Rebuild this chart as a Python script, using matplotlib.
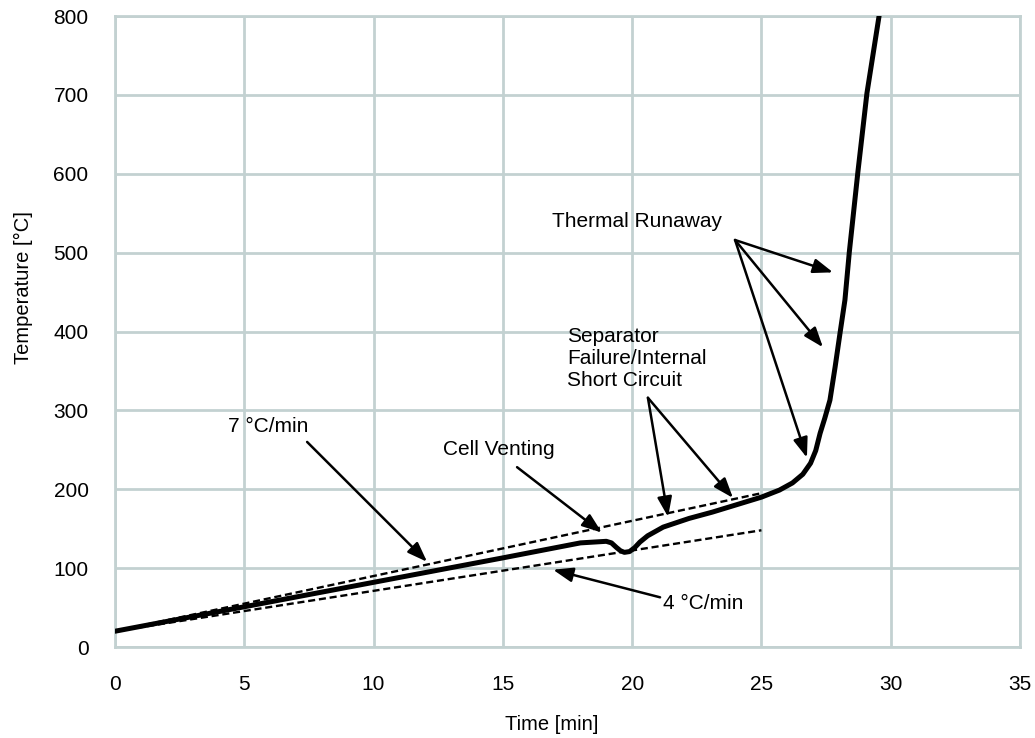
import matplotlib
matplotlib.use("Agg")
import matplotlib.pyplot as plt

plt.rcParams["font.family"] = ["Liberation Sans", "DejaVu Sans"]

# measured cell temperature
time_min = [0, 5, 10, 15, 18, 19.0, 19.2, 19.4, 19.55, 19.7, 19.9, 20.1, 20.3,
            20.6, 21.2, 22.2, 23.1, 25.0, 25.7, 26.2, 26.6, 26.9, 27.1, 27.27,
            27.45, 27.65, 27.85, 28.04, 28.23, 28.4, 28.73, 29.08, 29.55]
temp_c = [20, 51, 82, 113, 132, 134, 132, 126, 122, 120, 121, 126, 133,
          141, 152, 163, 171, 190, 199, 208, 219, 233, 249, 271,
          290, 313, 355, 398, 440, 501, 602, 702, 800]

# heating rate reference lines
rate_x = [0, 25]
rate7_y = [20, 195]
rate4_y = [20, 148]

xticks = list(range(0, 36, 5))
yticks = list(range(0, 801, 100))

grid_col = "#c3d1d1"

fig = plt.figure(figsize=(10.35, 7.38), dpi=100)
ax = fig.add_axes([0.1111, 0.1233, 0.8744, 0.855])

ax.plot(rate_x, rate7_y, color="black", lw=1.7, ls=(0, (3, 1.6)), zorder=3)
ax.plot(rate_x, rate4_y, color="black", lw=1.7, ls=(0, (3, 1.6)), zorder=3)
ax.plot(time_min, temp_c, color="black", lw=3.6, zorder=4,
        solid_joinstyle="round", solid_capstyle="round")

ax.set_xlim(0, 35)
ax.set_ylim(0, 800)
ax.set_xticks(xticks)
ax.set_yticks(yticks)
ax.grid(True, color=grid_col, lw=2)
ax.set_axisbelow(True)
for s in ax.spines.values():
    s.set_color(grid_col)
    s.set_linewidth(2)
ax.tick_params(length=0, labelsize=15, colors="black")
ax.tick_params(axis="x", pad=20)
ax.tick_params(axis="y", pad=19)

ax.set_xlabel("Time [min]", fontsize=14.5, va="center")
ax.set_ylabel("Temperature [°C]", fontsize=14.5, va="center")
ax.xaxis.set_label_coords(0.482, -0.1236)
ax.yaxis.set_label_coords(-0.1006, 0.569)

arrow = dict(arrowstyle="-|>,head_length=0.6,head_width=0.22", color="black",
             lw=1.8, mutation_scale=20, shrinkA=0, shrinkB=0)
fs = 15

ax.text(5.92, 279, "7 °C/min", fontsize=fs, ha="center", va="center")
ax.annotate("", xy=(12.07, 108), xytext=(7.43, 260), arrowprops=arrow)

ax.text(14.85, 251, "Cell Venting", fontsize=fs, ha="center", va="center")
ax.annotate("", xy=(18.83, 145), xytext=(15.55, 228), arrowprops=arrow)

ax.text(21.2, 55, "4 °C/min", fontsize=fs, ha="left", va="center")
ax.annotate("", xy=(16.94, 98), xytext=(21.08, 63), arrowprops=arrow)

ax.text(17.48, 366, "Separator\nFailure/Internal\nShort Circuit", fontsize=fs,
        ha="left", va="center", linespacing=1.2)
ax.annotate("", xy=(21.39, 165), xytext=(20.61, 316), arrowprops=arrow)
ax.annotate("", xy=(23.9, 189), xytext=(20.61, 316), arrowprops=arrow)

ax.text(20.2, 539, "Thermal Runaway", fontsize=fs, ha="center", va="center")
for tip in [(27.77, 475), (27.38, 380), (26.76, 240)]:
    ax.annotate("", xy=tip, xytext=(23.98, 516), arrowprops=arrow)

fig.savefig("out.png", dpi=100)
